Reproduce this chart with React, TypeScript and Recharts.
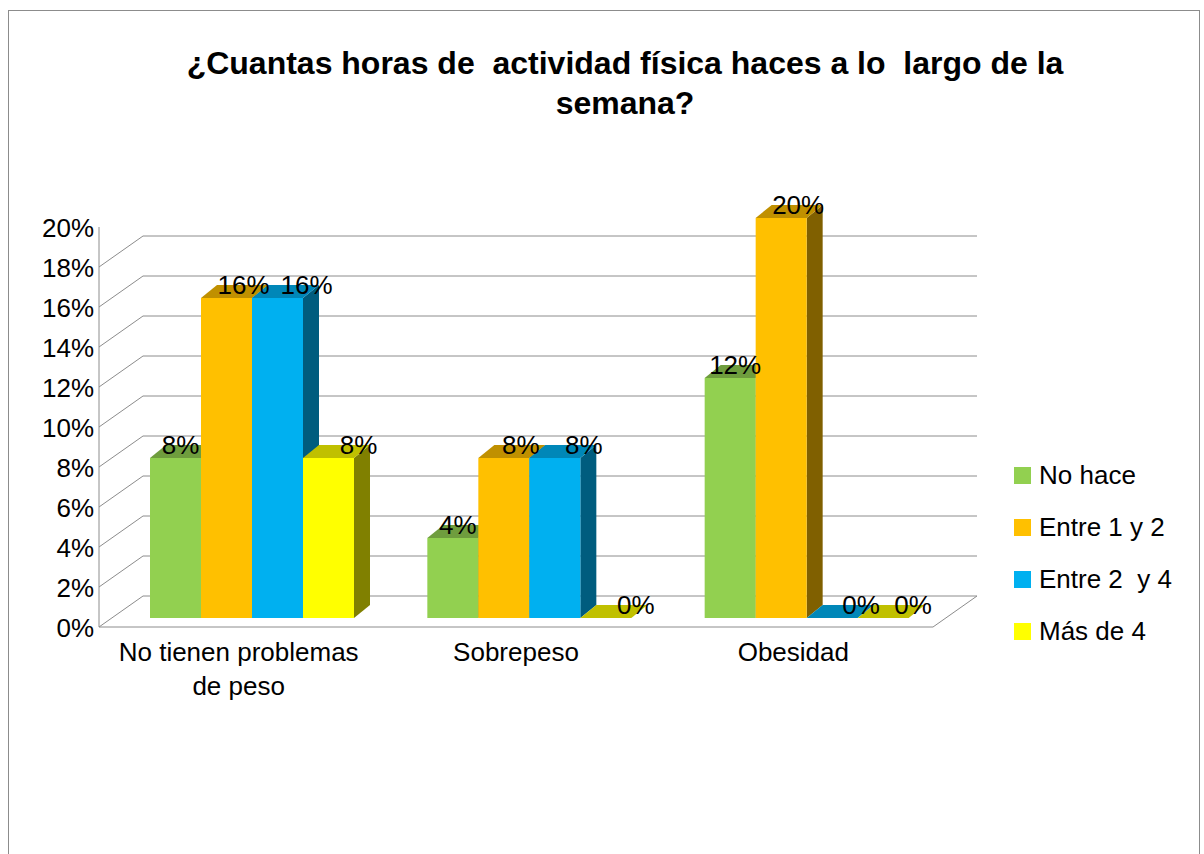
import { BarChart, Bar, XAxis, YAxis, CartesianGrid, LabelList } from 'recharts'

const categories = ['No tienen problemas\nde peso', 'Sobrepeso', 'Obesidad']
const noHace = [8, 4, 12]
const entre1y2 = [16, 8, 20]
const entre2y4 = [16, 8, 0]
const masDe4 = [8, 0, 0]
const seriesNames = ['No hace', 'Entre 1 y 2', 'Entre 2  y 4', 'Más de 4']
const valueTicks = [0, 2, 4, 6, 8, 10, 12, 14, 16, 18, 20]

const chartData = categories.map((name, i) => ({
  name,
  s0: noHace[i],
  s1: entre1y2[i],
  s2: entre2y4[i],
  s3: masDe4[i],
}))

const font = '"Liberation Sans", Arial, sans-serif'
const front = ['#92D050', '#FFC000', '#00B0F0', '#FFFF00']
const topFace = ['#6F9D3E', '#C09000', '#0087B8', '#C0C000']
const sideFace = ['#4F7228', '#806000', '#005C7E', '#808000']
const labelShift = [5, 17, 29, 30]
const DX = 16
const DY = -13
const gridColor = '#8c8c8c'

function Bar3D(props: any) {
  const { x, y, width, height, s } = props
  const h = Math.max(0, height || 0)
  const top = `${x},${y} ${x + width},${y} ${x + width + DX},${y + DY} ${x + DX},${y + DY}`
  const side = `${x + width},${y} ${x + width},${y + h} ${x + width + DX},${y + h + DY} ${x + width + DX},${y + DY}`
  return (
    <g>
      {h > 0 && <polygon points={side} fill={sideFace[s]} />}
      {h > 0 && <rect x={x} y={y} width={width} height={h} fill={front[s]} />}
      <polygon points={top} fill={topFace[s]} />
    </g>
  )
}

// back wall + left wall + floor, built from the value axis gridlines
function renderGridLine(p: any) {
  const { x1, y1, x2, y, height, index } = p
  if (Math.abs(y1 - y) < 1) return <g key={`gl-${index}`} />
  const fx = x1 - 14
  const fy = y1 + 9
  const bx = x1 + 30
  const by = y1 - 22
  const bx2 = x2 + 32
  const isBottom = Math.abs(y1 - (y + height)) < 1
  return (
    <g key={`gl-${index}`} stroke={gridColor} strokeWidth={1} fill="none">
      <line x1={fx} y1={fy} x2={bx} y2={by} />
      <line x1={bx} y1={by} x2={bx2} y2={by} />
      {isBottom && <line x1={fx} y1={fy} x2={fx} y2={fy - height} />}
      {isBottom && <line x1={fx} y1={fy} x2={x2 - 12} y2={fy} />}
      {isBottom && <line x1={x2 - 12} y1={fy} x2={bx2} y2={by} />}
    </g>
  )
}

function ValueTick(props: any) {
  const { x, y, payload } = props
  return (
    <text x={x - 11} y={y + 10} dy="0.35em" textAnchor="end" fontSize={26} fontFamily={font} fill="#000">
      {payload.value}%
    </text>
  )
}

function CategoryTick(props: any) {
  const { x, y, payload } = props
  const lines = String(payload.value).split('\n')
  return (
    <text x={x - 13} y={y + 35} textAnchor="middle" fontSize={26} fontFamily={font} fill="#000">
      {lines.map((l, i) => (
        <tspan key={i} x={x - 13} dy={i === 0 ? 0 : 34}>
          {l}
        </tspan>
      ))}
    </text>
  )
}

function makeLabel(s: number) {
  return (props: any) => {
    const { x, y, width, value } = props
    return (
      <text
        x={x + width / 2 + labelShift[s]}
        y={y - 13}
        dy="0.35em"
        textAnchor="middle"
        fontSize={26}
        fontFamily={font}
        fill="#000"
      >
        {value}%
      </text>
    )
  }
}

export default function App() {
  return (
    <div style={{ position: 'absolute', left: 0, top: 0, width: 1204, height: 854, fontFamily: font, background: '#fff', overflow: 'hidden' }}>
      <div
        style={{
          position: 'absolute',
          left: 8,
          top: 10,
          width: 1190,
          height: 900,
          border: '1px solid #8c8c8c',
        }}
      />
      <div
        style={{
          position: 'absolute',
          left: 125,
          top: 43,
          width: 1000,
          textAlign: 'center',
          fontSize: 32,
          fontWeight: 'bold',
          lineHeight: '40px',
          whiteSpace: 'pre',
        }}
      >
        {'¿Cuantas horas de  actividad física haces a lo  largo de la\nsemana?'}
      </div>
      <div style={{ position: 'absolute', left: 0, top: 0 }}>
        <BarChart
          width={1204}
          height={854}
          data={chartData}
          margin={{ top: 218, right: 259, bottom: 176, left: 53 }}
          barGap={0}
          barSize={51}
        >
          <CartesianGrid vertical={false} horizontal={renderGridLine} />
          <XAxis dataKey="name" axisLine={false} tickLine={false} interval={0} height={60} tick={<CategoryTick />} />
          <YAxis domain={[0, 20]} ticks={valueTicks} axisLine={false} tickLine={false} width={60} tick={<ValueTick />} />
          {[0, 1, 2, 3].map((s) => (
            <Bar
              key={s}
              dataKey={`s${s}`}
              name={seriesNames[s]}
              fill={front[s]}
              isAnimationActive={false}
              shape={(p: any) => <Bar3D {...p} s={s} />}
            >
              <LabelList dataKey={`s${s}`} content={makeLabel(s)} />
            </Bar>
          ))}
        </BarChart>
      </div>
      <div style={{ position: 'absolute', left: 1014, top: 449 }}>
        {seriesNames.map((n, i) => (
          <div key={n} style={{ height: 52, display: 'flex', alignItems: 'center' }}>
            <span style={{ width: 17, height: 17, background: front[i], marginRight: 8 }} />
            <span style={{ fontSize: 26, whiteSpace: 'pre', color: '#000' }}>{n}</span>
          </div>
        ))}
      </div>
    </div>
  )
}
